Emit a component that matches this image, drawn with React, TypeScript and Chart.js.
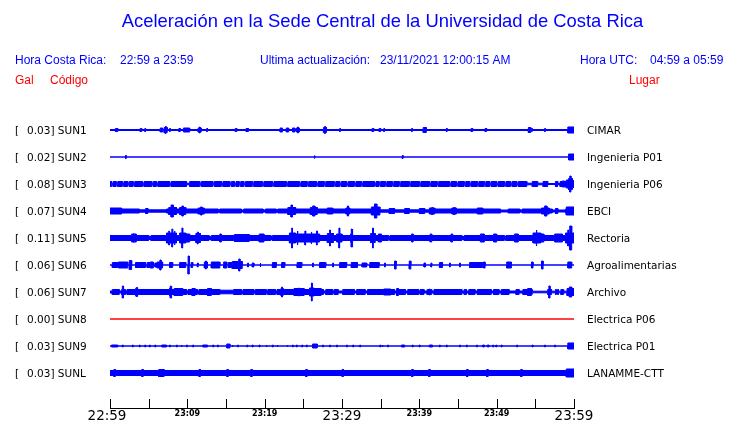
import React, { useEffect, useRef } from "react";
import { Chart, registerables } from "chart.js";
Chart.register(...registerables);

// ---------- data ----------
const titleText = "Aceleración en la Sede Central de la Universidad de Costa Rica";
const localRange = "22:59 a 23:59";
const utcRange = "04:59 a 05:59";
const lastUpdate = "23/11/2021 12:00:15 AM";

const stations = ["SUN1", "SUN2", "SUN3", "SUN4", "SUN5", "SUN6", "SUN7", "SUN8", "SUN9", "SUNL"];
const places = ["CIMAR", "Ingenieria P01", "Ingenieria P06", "EBCI", "Rectoria", "Agroalimentarias", "Archivo", "Electrica P06", "Electrica P01", "LANAMME-CTT"];
const peakGal = [0.03, 0.02, 0.08, 0.07, 0.11, 0.06, 0.06, 0.0, 0.03, 0.03];

// minutes after 22:59
const tickMinutes = [0, 5, 10, 15, 20, 25, 30, 35, 40, 45, 50, 55, 60];
const tickLabels = ["22:59", "", "23:09", "", "23:19", "", "23:29", "", "23:39", "", "23:49", "", "23:59"];
const majorLabels = ["22:59", "23:29", "23:59"];

// background (ambient) half-amplitude of each trace, in counts
const baseAmp = [0.5, 0, 2.5, 2, 2.5, 0, 2.5, 0, 0, 2.5];

// bursts: [start minute, end minute, half-amplitude]
type Burst = [number, number, number];
const sun1: Burst[] = [
  [0.7, 1.0, 1.5], [3.9, 4.1, 1.5], [4.5, 4.6, 1.5], [6.5, 6.8, 2], [7.0, 7.4, 2.5], [7.15, 7.25, 3.5], [7.7, 7.8, 1.5],
  [8.9, 9.1, 1.5], [9.5, 10.3, 2], [11.4, 11.8, 2], [11.55, 11.65, 3], [12.5, 12.6, 1.5], [16.2, 16.4, 1.5], [17.6, 17.9, 1.5],
  [22.0, 22.3, 2], [22.8, 23.1, 2], [23.6, 23.9, 2], [24.1, 24.5, 2], [24.25, 24.35, 3], [27.6, 28.0, 2.5], [27.75, 27.85, 3.5],
  [29.7, 29.8, 1.5], [33.9, 34.1, 1.5], [34.8, 35.0, 1.5], [35.4, 35.5, 1.5], [39.0, 39.1, 1.5], [40.5, 40.9, 2.5],
  [43.5, 43.6, 1.5], [46.7, 46.9, 1.5], [48.5, 48.7, 1.5], [54.1, 54.4, 2.5], [54.5, 54.6, 1.5], [56.2, 56.3, 1.5], [59.2, 60, 3],
];
const sun2: Burst[] = [[2.0, 2.1, 1.5], [26.4, 26.5, 1.5], [37.8, 37.9, 1.5], [59.3, 60, 3]];
const sun3: Burst[] = [
  [0.2, 0.4, 0.8], [0.8, 1.0, 0.8], [1.6, 1.8, 0.8], [2.3, 2.5, 0.8], [3.0, 3.2, 0.8], [4.2, 4.4, 0.8],
  [5.4, 5.6, 0.8], [6.0, 6.2, 0.8], [7.7, 7.9, 0.8], [9.9, 10.3, 0.8], [11.6, 11.8, 0.8], [13.3, 13.5, 0.8],
  [14.4, 14.6, 0.8], [15.5, 15.7, 0.8], [16.1, 16.3, 0.8], [16.7, 16.9, 0.8], [17.3, 17.5, 0.8], [18.4, 18.6, 0.8],
  [19.7, 19.9, 0.8], [21.0, 21.2, 0.8], [22.8, 23.0, 0.8], [24.5, 24.7, 0.8], [25.5, 25.7, 0.8], [26.7, 26.9, 0.8],
  [27.7, 27.9, 0.8], [29.0, 29.2, 0.8], [29.7, 29.9, 0.8], [30.6, 30.8, 0.8], [31.6, 31.8, 0.8], [32.5, 32.7, 0.8],
  [34.2, 34.4, 0.8], [34.8, 35.0, 0.8], [35.6, 35.8, 0.8], [36.5, 36.7, 0.8], [37.4, 37.6, 0.8], [38.7, 38.9, 0.8],
  [40.0, 40.2, 0.8], [41.3, 41.5, 0.8], [42.3, 42.5, 0.8], [43.9, 44.1, 0.8], [44.8, 45.0, 0.8], [45.8, 46.0, 0.8],
  [46.5, 46.7, 0.8], [47.5, 47.7, 0.8], [48.4, 48.6, 0.8], [49.1, 49.3, 0.8], [50.0, 50.2, 0.8], [51.0, 51.2, 0.8],
  [51.8, 52.0, 0.8], [52.6, 52.8, 0.8], [53.9, 54.6, 0.8], [55.3, 56.0, 0.8], [56.6, 57.6, 0.5], [57.9, 58.2, 0.5],
  [58.5, 58.8, 3], [59.0, 59.3, 4], [59.3, 59.8, 5.5], [59.45, 59.6, 8], [59.8, 60, 3.5],
];
const sun4: Burst[] = [
  [0, 1.5, 3], [3.8, 7.3, 1.2], [4.6, 4.9, 2.5], [7.6, 8.6, 3.5], [7.9, 8.2, 6], [9.0, 9.8, 3.5], [9.3, 9.5, 5],
  [11.4, 12.2, 3], [11.7, 11.9, 4], [14.0, 14.2, 1], [17.0, 17.3, 1], [19.8, 20.1, 1], [21.5, 21.7, 1],
  [23.0, 24.0, 3.5], [23.4, 23.6, 6], [25.9, 26.8, 3.5], [26.2, 26.5, 5], [28.1, 28.8, 3], [30.5, 31.0, 3],
  [30.7, 30.85, 5], [33.8, 34.9, 4], [34.2, 34.5, 7], [34.9, 41.3, 1.2], [36.1, 36.8, 2.5], [38.1, 38.7, 2.5],
  [40.0, 40.7, 2.5], [41.3, 42.0, 3], [41.6, 41.75, 3.5], [44.2, 44.8, 3], [44.45, 44.6, 3.5], [47.5, 48.2, 3],
  [50.5, 51.5, 1], [53.0, 53.3, 1], [55.8, 56.8, 3], [56.2, 56.5, 5], [57.2, 58.9, 1], [57.6, 57.9, 2.5], [59.0, 60, 4],
];
const sun5: Burst[] = [
  [2.8, 3.4, 4], [3.0, 3.1, 4.5], [5.0, 5.3, 1.5], [7.3, 8.6, 5], [7.6, 7.7, 7], [8.0, 8.1, 9], [8.3, 8.4, 7],
  [9.0, 9.8, 5], [9.3, 9.4, 10], [9.8, 10.3, 4], [11.1, 11.7, 4.5], [11.3, 11.4, 6], [12.8, 13.1, 1.5],
  [14.2, 14.4, 4], [16.1, 18.0, 3.5], [19.3, 19.9, 4], [20.8, 21.0, 1.5], [23.2, 24.0, 5], [23.5, 23.6, 10],
  [24.0, 24.5, 4], [24.2, 24.3, 7], [24.5, 27.1, 4], [25.2, 25.3, 7], [26.0, 26.1, 6], [26.7, 26.8, 7],
  [28.1, 28.9, 4.5], [28.4, 28.5, 8], [29.3, 30.0, 4], [29.6, 29.7, 10], [31.1, 31.4, 4], [31.2, 31.3, 9],
  [33.7, 34.3, 4.5], [33.95, 34.05, 10], [34.7, 35.1, 4], [36.0, 36.2, 1.5], [39.0, 39.2, 4], [41.4, 41.6, 4],
  [44.1, 44.3, 4], [45.5, 45.8, 1.5], [47.9, 48.4, 4], [49.6, 50.0, 4], [51.0, 51.2, 1.5], [52.3, 52.8, 4],
  [54.7, 55.7, 5], [55.1, 55.2, 8], [55.7, 56.1, 4], [57.5, 58.5, 4], [58.9, 59.8, 5], [59.2, 59.3, 8],
  [59.45, 59.7, 12], [59.8, 60, 5],
];
const sun6: Burst[] = [
  [0.3, 1.0, 2.5], [1.1, 2.3, 3], [2.5, 2.8, 4.5], [3.3, 4.6, 2.5], [4.8, 5.1, 2.5], [5.2, 5.6, 3], [5.8, 6.1, 2],
  [6.1, 6.8, 3], [6.45, 6.6, 5], [7.7, 8.1, 2.5], [9.0, 9.8, 2.5], [10.1, 10.25, 9], [10.5, 10.7, 2.5], [11.3, 11.4, 2],
  [12.2, 12.6, 3], [12.35, 12.45, 4], [13.1, 14.2, 3], [14.7, 15.1, 3], [15.3, 15.7, 2.5], [15.8, 17.1, 3.5],
  [16.65, 16.8, 6], [17.8, 17.9, 2], [18.4, 18.6, 2], [19.4, 19.5, 2], [21.0, 21.5, 2.5], [22.2, 22.6, 2.5],
  [24.2, 24.8, 2.5], [26.2, 26.3, 2], [27.1, 27.9, 2.5], [28.8, 28.9, 2], [29.7, 30.6, 2.5], [31.2, 32.0, 2.5],
  [32.6, 33.2, 2], [33.6, 34.8, 2.5], [35.5, 35.6, 2], [36.8, 37.0, 4], [38.7, 38.9, 4], [40.6, 40.8, 2],
  [41.5, 41.6, 2], [42.6, 43.0, 2.5], [43.9, 44.0, 2], [45.2, 45.3, 2], [46.5, 48.2, 2.5], [48.3, 48.5, 3],
  [51.3, 51.9, 3], [54.5, 54.7, 3], [55.8, 56.0, 4], [59.2, 59.7, 3],
];
const sun7: Burst[] = [
  [0, 0.3, 1], [1.2, 1.5, 1], [1.6, 1.75, 6], [2.0, 2.2, 1], [3.3, 3.6, 3.5], [3.4, 3.5, 4.5], [7.7, 8.0, 4],
  [7.8, 7.9, 6], [8.3, 9.4, 3.5], [9.9, 10.1, 1], [10.6, 11.0, 3.5], [11.3, 11.5, 1], [12.6, 13.1, 3.5],
  [14.2, 16.0, 1.8], [17.0, 17.2, 1], [18.6, 18.8, 1], [20.2, 20.4, 1], [21.4, 21.6, 1], [22.1, 22.4, 3.5],
  [22.2, 22.3, 5], [23.8, 25.1, 3.5], [24.4, 24.5, 4], [25.8, 26.4, 4], [26.05, 26.15, 9], [26.4, 27.3, 3.5],
  [27.6, 27.9, 1], [28.8, 29.0, 1], [29.5, 30.1, 1], [31.6, 31.9, 1], [33.0, 33.3, 1], [35.4, 36.3, 3],
  [36.8, 37.0, 1], [37.1, 37.3, 3.5], [38.2, 38.5, 1], [39.9, 40.1, 1], [40.6, 41.0, 1], [41.3, 41.4, 3],
  [41.6, 41.9, 1], [45.5, 45.8, 1], [46.1, 46.4, 1], [47.2, 47.5, 1], [49.3, 49.6, 1], [50.3, 50.6, 1],
  [51.6, 52.5, 1], [52.9, 53.4, 1], [54.0, 54.5, 3.5], [54.6, 56.6, 0.8], [56.75, 56.9, 6], [57.1, 57.6, 0.8],
  [57.7, 57.9, 2], [58.0, 58.3, 0.8], [58.4, 58.6, 2.5], [58.7, 59.1, 0.8], [59.1, 60, 3.5], [59.4, 59.7, 5],
];
const sun8: Burst[] = [];
const sun9: Burst[] = [
  [0.2, 1.0, 1], [1.6, 1.7, 1], [2.9, 3.0, 1], [3.8, 3.9, 1], [4.5, 4.6, 1], [5.1, 5.2, 1],
  [5.8, 5.9, 1], [6.7, 7.3, 1], [7.7, 7.8, 1], [8.6, 8.7, 1], [9.2, 9.3, 1], [9.9, 10.0, 1],
  [10.7, 10.8, 1], [12.0, 12.6, 1], [13.3, 13.4, 1], [13.9, 14.0, 1], [15.1, 15.5, 2], [15.8, 15.9, 1],
  [16.5, 16.6, 1], [17.7, 17.8, 1], [18.4, 18.5, 1], [19.3, 19.4, 1], [20.2, 20.3, 1], [21.0, 21.1, 1],
  [21.6, 21.7, 1], [22.9, 23.0, 1], [23.6, 23.7, 1], [24.1, 24.2, 1], [24.8, 24.9, 1], [25.4, 25.5, 1],
  [26.2, 26.8, 2], [27.5, 27.6, 1], [28.4, 28.5, 1], [29.3, 29.4, 1], [30.6, 30.7, 1], [31.4, 31.5, 1],
  [32.3, 32.4, 1], [34.9, 35.0, 1], [35.2, 35.3, 1], [35.9, 36.0, 1], [37.7, 38.1, 1], [39.1, 39.2, 1],
  [40.0, 40.1, 1], [41.3, 41.7, 1], [42.6, 42.7, 1], [43.5, 43.6, 1], [45.2, 45.3, 1], [46.1, 46.2, 1],
  [47.4, 47.5, 1], [48.2, 48.4, 1], [48.8, 49.0, 1], [49.5, 49.6, 1], [49.9, 50.0, 1], [50.6, 50.7, 1],
  [52.6, 52.7, 1], [54.6, 54.7, 1], [56.2, 56.3, 1], [57.5, 57.6, 1], [59.2, 60, 3],
];
const sunL: Burst[] = [
  [0.5, 0.7, 3.5], [4.1, 4.3, 3.5], [6.3, 7.0, 3.5], [11.5, 11.7, 3.5], [15.1, 15.3, 3.5], [18.2, 18.4, 3.5],
  [25.3, 25.5, 3.5], [30.0, 30.2, 3.5], [39.0, 39.2, 3.5], [41.2, 41.4, 3.5], [46.1, 46.3, 3.5], [48.7, 48.9, 3.5],
  [53.1, 53.3, 3.5], [59.0, 60, 4],
];
const bursts: Burst[][] = [sun1, sun2, sun3, sun4, sun5, sun6, sun7, sun8, sun9, sunL];

// ---------- helpers ----------
const BLUE = "#0000ff";
const RED = "#ff0000";
const traceSpacing = 27;

function envelope(base: number, list: Burst[]) {
  const xs = new Set<number>([0, 60]);
  list.forEach((b) => { xs.add(b[0]); xs.add(b[1]); });
  const sorted = Array.from(xs).sort((a, b) => a - b);
  const pts: { x: number; a: number }[] = [];
  for (let k = 0; k < sorted.length - 1; k++) {
    const a = sorted[k], b = sorted[k + 1];
    const mid = (a + b) / 2;
    const cover = list.filter((e) => e[0] <= mid && e[1] >= mid);
    const amp = cover.length ? Math.max(...cover.map((e) => e[2])) : base;
    pts.push({ x: a, a: amp }, { x: b, a: amp });
  }
  return pts;
}

export default function App() {
  const ref = useRef<HTMLCanvasElement>(null);
  useEffect(() => {
    document.body.style.margin = "0";
    const n = stations.length;
    const datasets: any[] = [];
    stations.forEach((_, i) => {
      const off = (n - i) * traceSpacing;
      const env = envelope(baseAmp[i], bursts[i]);
      const color = peakGal[i] === 0 ? RED : BLUE;
      datasets.push({
        data: env.map((p) => ({ x: p.x, y: off + p.a })),
        borderColor: color, backgroundColor: color, borderWidth: 1,
        pointRadius: 0, tension: 0, fill: "+1", borderJoinStyle: "miter",
      });
      datasets.push({
        data: env.map((p) => ({ x: p.x, y: off - p.a })),
        borderColor: color, backgroundColor: color, borderWidth: 1,
        pointRadius: 0, tension: 0, fill: false, borderJoinStyle: "miter",
      });
    });

    const textPlugin = {
      id: "seismoText",
      afterDraw(chart: any) {
        const ctx = chart.ctx as CanvasRenderingContext2D;
        const xs = chart.scales.x, ys = chart.scales.y;
        ctx.save();
        ctx.textBaseline = "middle";
        // title
        ctx.fillStyle = BLUE;
        ctx.textAlign = "center";
        ctx.font = '18.4px "Liberation Sans", Arial, sans-serif';
        ctx.fillText(titleText, 382.5, 22);
        // header
        ctx.textAlign = "left";
        ctx.font = '12px "Liberation Sans", Arial, sans-serif';
        ctx.fillText("Hora Costa Rica:", 15, 61);
        ctx.fillText(localRange, 120, 61);
        ctx.fillText("Ultima actualización:", 260, 61);
        ctx.fillText(lastUpdate, 380, 61);
        ctx.fillText("Hora UTC:", 580, 61);
        ctx.fillText(utcRange, 650, 61);
        ctx.fillStyle = RED;
        ctx.fillText("Gal", 15, 81);
        ctx.fillText("Código", 50, 81);
        ctx.fillText("Lugar", 629, 81);
        // station labels
        ctx.fillStyle = "#000";
        ctx.font = '10.5px "DejaVu Sans", sans-serif';
        const n2 = stations.length;
        stations.forEach((s, i) => {
          const y = ys.getPixelForValue((n2 - i) * traceSpacing) + 1;
          ctx.fillText("[", 15, y);
          ctx.fillText(peakGal[i].toFixed(2) + "] " + s, 27, y);
          ctx.fillText(places[i], 587, y);
        });
        // time axis
        const yAxis = chart.chartArea.bottom;
        const x0 = xs.getPixelForValue(0), x1 = xs.getPixelForValue(60);
        ctx.strokeStyle = "#000";
        ctx.lineWidth = 1;
        ctx.beginPath();
        ctx.moveTo(x0, Math.round(yAxis) - 0.5);
        ctx.lineTo(x1 + 1, Math.round(yAxis) - 0.5);
        tickMinutes.forEach((m) => {
          const px = Math.round(xs.getPixelForValue(m)) + 0.5;
          ctx.moveTo(px, yAxis - 10);
          ctx.lineTo(px, yAxis);
        });
        ctx.stroke();
        ctx.textAlign = "center";
        tickMinutes.forEach((m, k) => {
          const lab = tickLabels[k];
          if (!lab) return;
          const px = xs.getPixelForValue(m);
          if (majorLabels.includes(lab)) {
            ctx.font = '13.5px "DejaVu Sans", sans-serif';
            ctx.fillText(lab, k === 0 ? px - 3 : px, yAxis + 7);
          } else {
            ctx.font = 'bold 8px "DejaVu Sans", sans-serif';
            ctx.fillText(lab, px, yAxis + 5);
          }
        });
        ctx.restore();
      },
    };

    const chart = new Chart(ref.current!, {
      type: "line",
      data: { datasets },
      options: {
        animation: false,
        responsive: false,
        layout: { padding: { left: 110, right: 166, top: 103, bottom: 14 } },
        scales: {
          x: { type: "linear", min: 0, max: 60, display: false },
          y: { type: "linear", min: -9, max: 297, display: false },
        },
        plugins: { legend: { display: false }, tooltip: { enabled: false } },
        events: [],
      },
      plugins: [textPlugin],
    });
    return () => chart.destroy();
  }, []);
  return (
    <div style={{ position: "relative", width: 740, height: 423, background: "#fff" }}>
      <canvas ref={ref} width={740} height={423} />
    </div>
  );
}
